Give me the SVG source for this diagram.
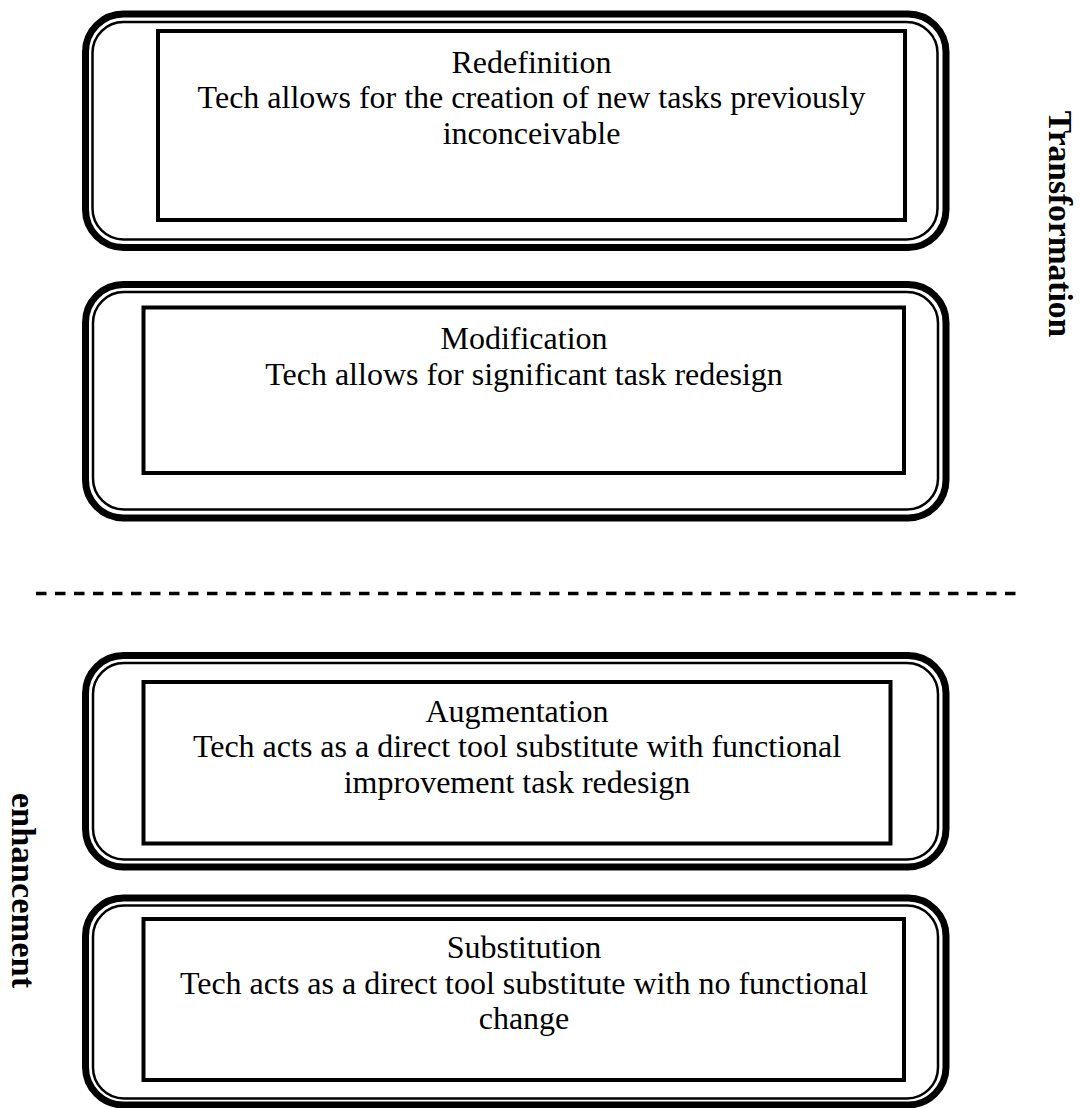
<svg xmlns="http://www.w3.org/2000/svg" width="1080" height="1108" viewBox="0 0 1080 1108">
  <style>
    .frame-outer { fill: none; stroke: #000; stroke-width: 7; }
    .frame-inner { fill: none; stroke: #000; stroke-width: 2.5; }
    .box { fill: #fff; stroke: #000; stroke-width: 4; }
    .label { font-family: "Liberation Serif", "Times New Roman", serif; font-size: 32px; fill: #000; text-anchor: middle; }
    .side { font-family: "Liberation Serif", "Times New Roman", serif; font-weight: bold; fill: #000; text-anchor: middle; }
    .divider { stroke: #000; stroke-width: 3.5; stroke-dasharray: 10.5 8.5; fill: none; }
  </style>
  <rect width="1080" height="1108" fill="#fff"/>

  <!-- Level 4: Redefinition -->
  <g id="redefinition">
    <rect class="frame-outer" x="85.5" y="14" width="860.5" height="233.5" rx="38" ry="38"/>
    <rect class="frame-inner" x="92.5" y="22" width="845" height="217.5" rx="31" ry="31"/>
    <rect class="box" x="158" y="31" width="747" height="189"/>
    <text class="label" x="531.5" y="72.5">Redefinition</text>
    <text class="label" x="531.5" y="108">Tech allows for the creation of new tasks previously</text>
    <text class="label" x="531.5" y="143.5">inconceivable</text>
  </g>

  <!-- Level 3: Modification -->
  <g id="modification">
    <rect class="frame-outer" x="85.5" y="284.5" width="860.5" height="233.5" rx="38" ry="38"/>
    <rect class="frame-inner" x="93" y="292" width="845" height="217.5" rx="31" ry="31"/>
    <rect class="box" x="143.5" y="307.5" width="760.5" height="165.5"/>
    <text class="label" x="524" y="349">Modification</text>
    <text class="label" x="524" y="384.5">Tech allows for significant task redesign</text>
  </g>

  <!-- Transformation / enhancement boundary -->
  <g id="connectors">
    <line class="divider" x1="36" y1="593.5" x2="1022" y2="593.5"/>
  </g>

  <!-- Level 2: Augmentation -->
  <g id="augmentation">
    <rect class="frame-outer" x="85.5" y="655.5" width="860.5" height="211.5" rx="38" ry="38"/>
    <rect class="frame-inner" x="93" y="663" width="845" height="196.5" rx="31" ry="31"/>
    <rect class="box" x="143.5" y="682" width="747" height="161.5"/>
    <text class="label" x="517" y="721.5">Augmentation</text>
    <text class="label" x="517" y="757">Tech acts as a direct tool substitute with functional</text>
    <text class="label" x="517" y="792.5">improvement task redesign</text>
  </g>

  <!-- Level 1: Substitution -->
  <g id="substitution">
    <rect class="frame-outer" x="85.5" y="898" width="860.5" height="207" rx="38" ry="38"/>
    <rect class="frame-inner" x="93" y="905.5" width="845" height="193" rx="31" ry="31"/>
    <rect class="box" x="143.5" y="919" width="760.5" height="161"/>
    <text class="label" x="524" y="958">Substitution</text>
    <text class="label" x="524" y="993.5">Tech acts as a direct tool substitute with no functional</text>
    <text class="label" x="524" y="1029">change</text>
  </g>

  <!-- Side captions -->
  <g id="transformation-label">
    <text class="side" font-size="33.5" transform="translate(1048.5 224) rotate(90)">Transformation</text>
  </g>
  <g id="enhancement-label">
    <text class="side" font-size="34.5" transform="translate(12 890.5) rotate(90)">enhancement</text>
  </g>
</svg>
